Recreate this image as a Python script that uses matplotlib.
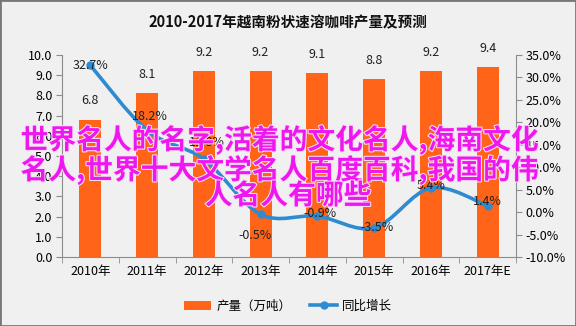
import numpy as np
import matplotlib
matplotlib.use("Agg")
import matplotlib.pyplot as plt
from matplotlib.path import Path
from matplotlib.patches import PathPatch, Rectangle
from matplotlib.lines import Line2D
from matplotlib.patches import Patch
import matplotlib.patheffects as pe
import matplotlib.ticker as mticker

# ── Data ──
years = ["2010年", "2011年", "2012年", "2013年", "2014年", "2015年", "2016年", "2017年E"]
output = [6.8, 8.1, 9.2, 9.2, 9.1, 8.8, 9.2, 9.4]
growth = [32.7, 18.2, 11.8, -0.5, -0.9, -3.5, 5.4, 1.4]

# label offsets for the growth labels (points)
growth_offsets = [(0, 0), (2, 10), (2, 12), (-4, -15), (2, 2), (2, 0), (0, 2), (0, 3)]

TITLE = "2010-2017年越南粉状速溶咖啡产量及预测"
OVERLAY = ["世界名人的名字,活着的文化名人,海南文化",
           "名人,世界十大文学名人百度百科,我国的伟",
           "人名人有哪些"]

BG = "#f0f0f0"
BAR = "#ff6418"
LINE = "#2e8bd0"
AXIS = "#8c8c8c"

plt.rcParams["font.family"] = ["Noto Sans CJK SC", "DejaVu Sans"]

fig = plt.figure(figsize=(5.76, 3.26), dpi=100)
fig.patch.set_facecolor(BG)
ax = fig.add_axes([62 / 576, 1 - 257 / 326, (516 - 62) / 576, (257 - 55) / 326])
ax.set_facecolor("none")

x = np.arange(len(years))
ax.bar(x, output, width=0.39, color=BAR, zorder=2)
ax.set_xlim(-0.5, len(years) - 0.5)
ax.set_ylim(0, 10)
ax.yaxis.set_major_locator(mticker.MultipleLocator(1))
ax.yaxis.set_major_formatter(mticker.FormatStrFormatter("%.1f"))
ax.set_xticks(x)
ax.set_xticklabels(years)
ax.set_xticks(np.arange(-0.5, len(years)), minor=True)
ax.tick_params(axis="x", which="major", length=0, pad=6, labelsize=9)
ax.tick_params(axis="x", which="minor", length=4, color=AXIS)
ax.tick_params(axis="y", length=4, color=AXIS, labelsize=9, pad=3)
for s in ["top", "right"]:
    ax.spines[s].set_visible(False)
for s in ["left", "bottom"]:
    ax.spines[s].set_color(AXIS)

for xi, v in zip(x, output):
    ax.annotate(f"{v:.1f}", xy=(xi, v), xytext=(0, 9), textcoords="offset points",
                ha="center", va="bottom", fontsize=9, color="#222")

# ── Growth line (smoothed via bezier path) ──
ax2 = ax.twinx()
ax2.set_ylim(-10, 35)
ax2.yaxis.set_major_locator(mticker.MultipleLocator(5))
ax2.yaxis.set_major_formatter(mticker.FuncFormatter(lambda v, p: f"{v:.1f}%"))
ax2.tick_params(axis="y", length=4, color=AXIS, labelsize=9, pad=3)
for s in ["top", "left", "bottom"]:
    ax2.spines[s].set_visible(False)
ax2.spines["right"].set_color(AXIS)

pts = np.column_stack([x, growth]).astype(float)
verts, codes = [tuple(pts[0])], [Path.MOVETO]
t = 1 / 6
for i in range(len(pts) - 1):
    p0 = pts[i - 1] if i > 0 else pts[i]
    p1, p2 = pts[i], pts[i + 1]
    p3 = pts[i + 2] if i + 2 < len(pts) else pts[i + 1]
    c1 = p1 + (p2 - p0) * t
    c2 = p2 - (p3 - p1) * t
    verts += [tuple(c1), tuple(c2), tuple(p2)]
    codes += [Path.CURVE4] * 3
ax2.add_patch(PathPatch(Path(verts, codes), facecolor="none", edgecolor=LINE,
                        linewidth=2.6, zorder=3))
ax2.plot(x, growth, linestyle="none", marker="o", markersize=5, color=LINE, zorder=4)

for xi, v, off in zip(x, growth, growth_offsets):
    ax2.annotate(f"{v:.1f}%", xy=(xi, v), xytext=off, textcoords="offset points",
                 ha="center", va="center", fontsize=9, color="#222", zorder=5)

# ── Title & legend ──
fig.text(0.5, 1 - 22 / 326, TITLE, ha="center", va="center", fontsize=10.5,
         fontweight="bold", color="#111")
handles = [Patch(facecolor=BAR, edgecolor="none"),
           Line2D([0], [0], color=LINE, lw=2.6, marker="o", markersize=5)]
fig.legend(handles, ["产量（万吨）", "同比增长"], loc="center",
           bbox_to_anchor=(0.5, 1 - 306 / 326), ncol=2, frameon=False,
           fontsize=9, handlelength=2.2, columnspacing=1.5, handletextpad=0.4)

# ── Overlay text ──
for yy, line in zip([140, 170, 196], OVERLAY):
    fig.text(0.5 if yy == 196 else 0.485, 1 - yy / 326, line, ha="center", va="center",
             fontsize=20, fontweight="bold", color="#ee18ee", zorder=10,
             path_effects=[pe.withStroke(linewidth=1.5, foreground="#f8e0f8")])

fig.add_artist(Rectangle((0, 0), 1, 1, transform=fig.transFigure, fill=False,
                         edgecolor="#777", linewidth=2))

fig.savefig("out.png", dpi=100, facecolor=BG)
